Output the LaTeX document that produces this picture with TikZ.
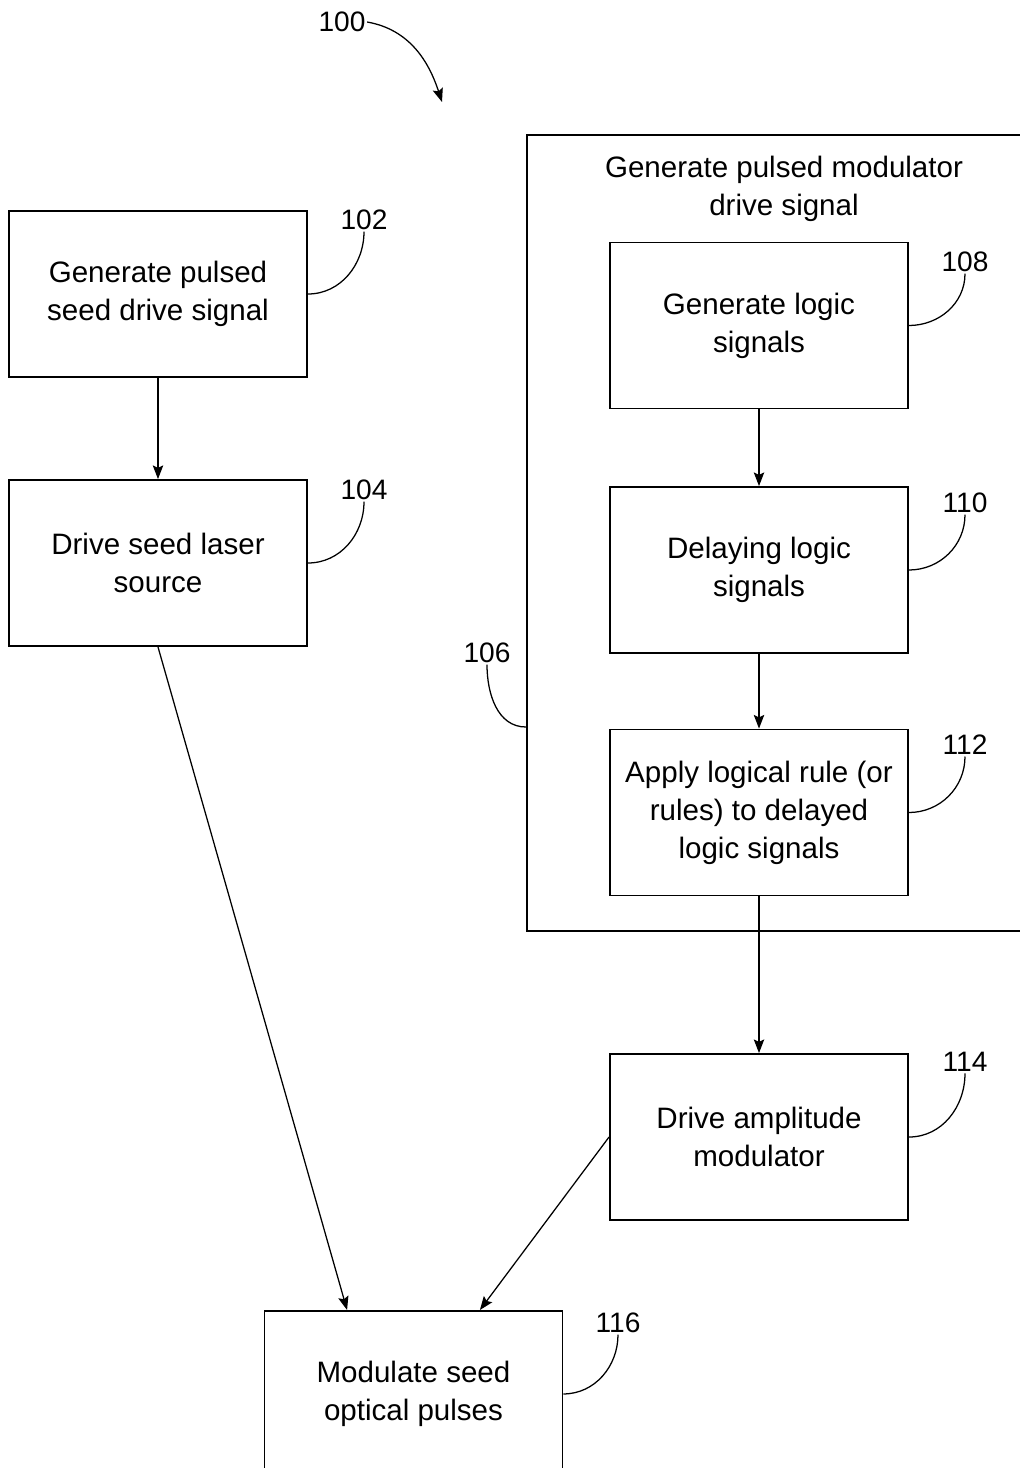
\documentclass[tikz,border=0pt]{standalone}
\usepackage{fontspec}
\setmainfont{Liberation Sans}
\usetikzlibrary{arrows.meta}

\tikzset{
    blockbox/.style={draw, line width=1.3pt, minimum width=7.45cm, minimum height=4.15cm,
        align=center, font=\fontsize{21}{27}\selectfont, inner sep=0pt},
    refnum/.style={font=\fontsize{20}{24}\selectfont, inner sep=1pt},
    leader/.style={line width=0.9pt},
    flowarrow/.style={line width=0.9pt, -{Stealth[length=3.4mm,width=2.6mm,inset=0.6mm]}}
}

\begin{document}
\begin{tikzpicture}[x=0.025cm, y=-0.025cm]
        \useasboundingbox (0,0) rectangle (1020,1468);
        \clip (0,0) rectangle (1020,1468);

        % overall reference
        \node[refnum] (l100) at (342, 22) {100};
        \coordinate (t100) at (442, 102);
        \draw[flowarrow] (l100.east) to[out=-10, in=108] (t100);

        % left column
        \node[blockbox] (b102) at (158, 294) {Generate pulsed\\seed drive signal};
        \node[blockbox] (b104) at (158, 563) {Drive seed laser\\source};

        \node[refnum] (l102) at (364, 220) {102};
        \node[refnum] (l104) at (364, 490) {104};
        \draw[leader] (b102.east) to[out=0, in=-90] (l102.south);
        \draw[leader] (b104.east) to[out=0, in=-90] (l104.south);

        \draw[flowarrow] (b102) -- (b104);

        % modulator drive signal group
        \node[draw, line width=1.3pt, minimum width=13.2cm, minimum height=19.9cm, inner sep=0pt, anchor=north west] (b106) at (526, 134) {};
        \node[align=center, font=\fontsize{21}{27}\selectfont] (t106) at (784, 189) {Generate pulsed modulator\\drive signal};
        \node[refnum] (l106) at (487, 653) {106};
        \coordinate (c106) at (526, 727);
        \draw[leader] (l106.south) to[out=-90, in=180] (c106);

        \node[blockbox] (b108) at (759, 325.5) {Generate logic\\signals};
        \node[blockbox] (b110) at (759, 570) {Delaying logic\\signals};
        \node[blockbox] (b112) at (759, 812.5) {Apply logical rule (or\\rules) to delayed\\logic signals};

        \node[refnum] (l108) at (965, 262) {108};
        \node[refnum] (l110) at (965, 503) {110};
        \node[refnum] (l112) at (965, 745) {112};
        \draw[leader] (b108.east) to[out=0, in=-90] (l108.south);
        \draw[leader] (b110.east) to[out=0, in=-90] (l110.south);
        \draw[leader] (b112.east) to[out=0, in=-90] (l112.south);

        \draw[flowarrow] (b108) -- (b110);
        \draw[flowarrow] (b110) -- (b112);

        % amplitude modulator and output
        \node[blockbox] (b114) at (759, 1137) {Drive amplitude\\modulator};
        \node[refnum] (l114) at (965, 1062) {114};
        \draw[leader] (b114.east) to[out=0, in=-90] (l114.south);
        \draw[flowarrow] (b112) -- (b114);

        \node[blockbox, anchor=north] (b116) at (413.5, 1310) {Modulate seed\\optical pulses};
        \node[refnum] (l116) at (618, 1323) {116};
        \draw[leader] (b116.east) to[out=0, in=-90] (l116.south);

        \draw[flowarrow] (b104.south) -- ([xshift=-1.66cm]b116.north);
        \draw[flowarrow] (b114.west) -- ([xshift=1.66cm]b116.north);

\end{tikzpicture}
\end{document}
